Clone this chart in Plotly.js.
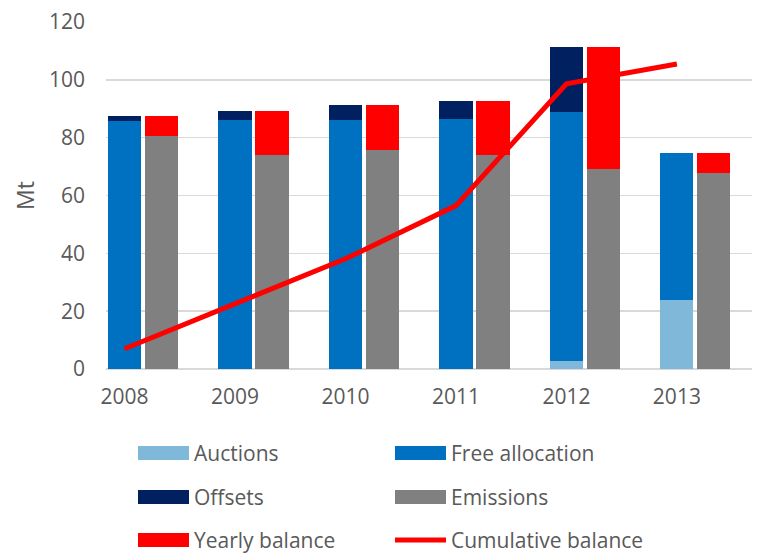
<!DOCTYPE html>
<html>
<head>
<meta charset="utf-8">
<script src="https://cdn.plot.ly/plotly-3.0.1.min.js"></script>
<style>html,body{margin:0;padding:0;background:#fff;}#chart{width:758px;height:554px;}</style>
</head>
<body>
<div id="chart"></div>
<script>
// ---- data ----
var years = [2008, 2009, 2010, 2011, 2012, 2013];
var auctions = [0, 0, 0, 0, 2.6, 24.0];
var freeAllocation = [85.6, 86.0, 86.0, 86.4, 86.3, 50.7];
var offsets = [1.8, 3.2, 5.3, 6.2, 22.3, 0];
var emissions = [80.5, 73.9, 75.6, 74.1, 69.1, 67.8];
var yearlyBalance = [6.9, 15.3, 15.7, 18.5, 42.1, 6.9];
var cumulativeBalance = [7.0, 22.4, 38.1, 56.5, 98.6, 105.5];
var seriesNames = ["Auctions", "Free allocation", "Offsets", "Emissions", "Yearly balance", "Cumulative balance"];
var yTicks = [0, 20, 40, 60, 80, 100, 120];

// ---- styling / layout ----
var colors = ["#7FB8D8", "#0070C0", "#002060", "#808080", "#FF0000", "#FF0000"];
var W = 758, H = 554;
var L = 106, R = 752, T = 22, B = 369;
var pw = R - L, ph = B - T;
var barW = 0.3, rightOff = 0.335;
var font = "Open Sans, Liberation Sans, sans-serif";
var txt = "#595959";

var xLeft = years.slice();
var xRight = years.map(function (y) { return y + rightOff; });

function bar(name, xs, ys, color) {
  return { type: "bar", name: name, x: xs, y: ys, width: barW,
    marker: { color: color, line: { width: 0 } }, showlegend: false,
    hoverinfo: "name+y" };
}
var traces = [
  bar(seriesNames[0], xLeft, auctions, colors[0]),
  bar(seriesNames[1], xLeft, freeAllocation, colors[1]),
  bar(seriesNames[2], xLeft, offsets, colors[2]),
  bar(seriesNames[3], xRight, emissions, colors[3]),
  bar(seriesNames[4], xRight, yearlyBalance, colors[4]),
  { type: "scatter", mode: "lines", name: seriesNames[5], x: xLeft, y: cumulativeBalance,
    line: { color: colors[5], width: 5 }, showlegend: false }
];

function px(x) { return (x - L) / pw; }
function py(y) { return (B - y) / ph; }

// custom legend matching the reference's long swatches
var legendItems = [
  { col: 0, row: 0, i: 0 }, { col: 1, row: 0, i: 1 },
  { col: 0, row: 1, i: 2 }, { col: 1, row: 1, i: 3 },
  { col: 0, row: 2, i: 4 }, { col: 1, row: 2, i: 5 }
];
var colSw = [138, 395], swW = 51, rowY = [453, 497, 540], swH = 14;
var shapes = [], annotations = [];
legendItems.forEach(function (it) {
  var x0 = colSw[it.col], yc = rowY[it.row];
  if (it.i === 5) {
    shapes.push({ type: "line", xref: "paper", yref: "paper",
      x0: px(x0), x1: px(x0 + swW), y0: py(yc), y1: py(yc),
      line: { color: colors[it.i], width: 5 } });
  } else {
    shapes.push({ type: "rect", xref: "paper", yref: "paper",
      x0: px(x0), x1: px(x0 + swW), y0: py(yc - swH / 2), y1: py(yc + swH / 2),
      fillcolor: colors[it.i], line: { width: 0 } });
  }
  annotations.push({ xref: "paper", yref: "paper", x: px(x0 + swW + 3), y: py(yc),
    xanchor: "left", yanchor: "middle", showarrow: false, text: seriesNames[it.i],
    font: { family: font, size: 21, color: txt } });
});

var layout = {
  width: W, height: H,
  margin: { l: L, r: W - R, t: T, b: H - B, pad: 0 },
  paper_bgcolor: "#fff", plot_bgcolor: "#fff",
  barmode: "stack", bargap: 0,
  showlegend: false,
  font: { family: font, size: 21, color: txt },
  xaxis: {
    range: [2007.832, 2013.68], tickmode: "array", tickvals: years,
    ticktext: years.map(String), showgrid: false, zeroline: false,
    showline: false, ticks: "", ticklabelstandoff: 13,
    tickfont: { family: font, size: 21, color: txt }
  },
  yaxis: {
    range: [0, 120], tickmode: "array", tickvals: yTicks,
    showgrid: true, gridcolor: "#D9D9D9", gridwidth: 1.5,
    zeroline: true, zerolinecolor: "#D9D9D9", zerolinewidth: 1.5,
    showline: false, ticks: "", ticklabelstandoff: 20,
    tickfont: { family: font, size: 21, color: txt },
    title: { text: "Mt", standoff: 7, font: { family: font, size: 23, color: txt } }
  },
  shapes: shapes,
  annotations: annotations
};

Plotly.newPlot("chart", traces, layout, { displayModeBar: false, staticPlot: true });
</script>
</body>
</html>
